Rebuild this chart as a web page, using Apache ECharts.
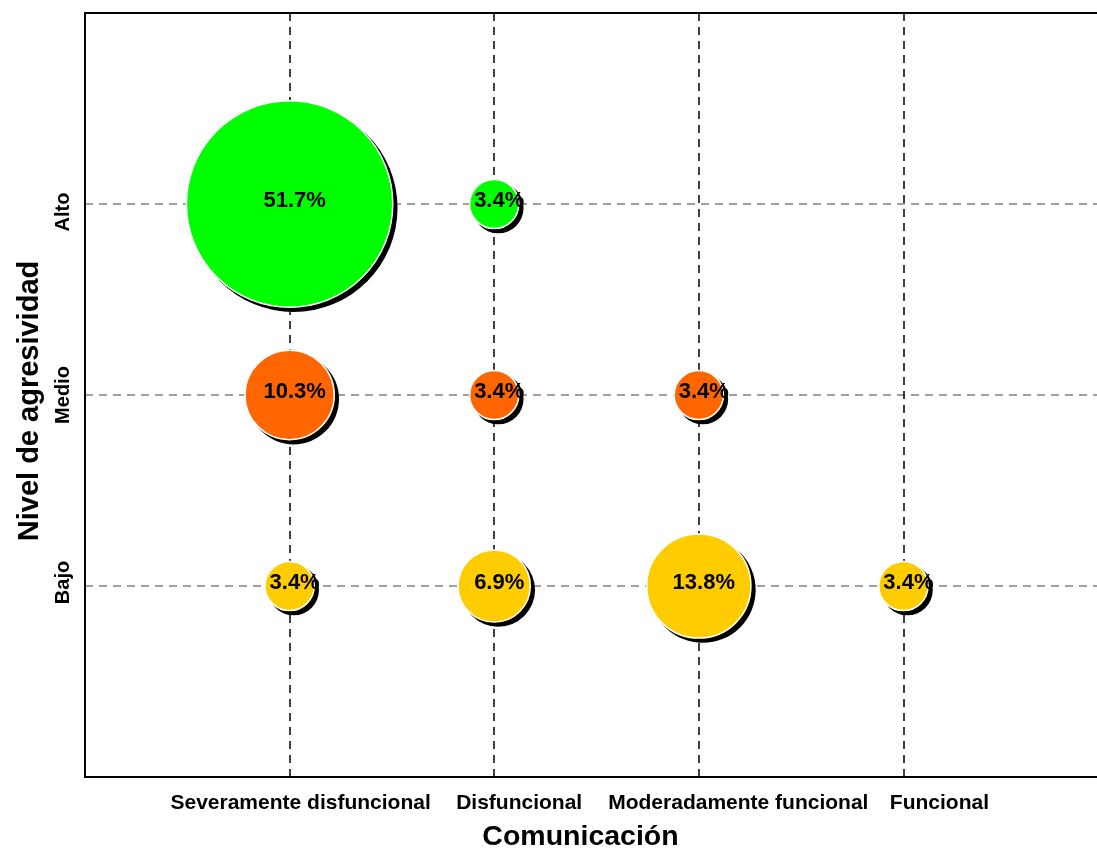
<!DOCTYPE html>
<html>
<head>
<meta charset="utf-8">
<script src="https://cdn.jsdelivr.net/npm/echarts@6/dist/echarts.min.js"></script>
<style>
  html, body { margin: 0; padding: 0; background: #fff; }
  #chart { width: 1097px; height: 850px; }
</style>
</head>
<body>
<div id="chart"></div>
<script>
// Categories (x axis: Comunicación) and levels (y axis: Nivel de agresividad)
const categories = ['Severamente disfuncional', 'Disfuncional', 'Moderadamente funcional', 'Funcional'];
const levels = ['Bajo', 'Medio', 'Alto'];
// Percentages per level, in category order (null = no bubble)
const bajoValues = [3.4, 6.9, 13.8, 3.4];
const medioValues = [10.3, 3.4, 3.4, null];
const altoValues = [51.7, 3.4, null, null];

const FONT = '"Liberation Sans", Arial, sans-serif';
const sizeOf = d => 29.4 * Math.sqrt(d[2]) - 5;

function toPoints(values, levelIndex) {
  const pts = [];
  values.forEach((v, i) => {
    if (v !== null) pts.push([i + 1, levelIndex + 1, v]);
  });
  return pts;
}

function shadowSeries(values, levelIndex) {
  return {
    type: 'scatter',
    data: toPoints(values, levelIndex),
    symbol: 'circle',
    symbolSize: d => sizeOf(d) + 1.5,
    symbolOffset: [4, 4],
    itemStyle: { color: '#000', opacity: 1 },
    label: { show: false },
    silent: true,
    z: 1,
    emphasis: { disabled: true }
  };
}

function bubbleSeries(name, values, levelIndex, color) {
  return {
    name: name,
    type: 'scatter',
    data: toPoints(values, levelIndex),
    symbol: 'circle',
    symbolSize: sizeOf,
    itemStyle: {
      color: color,
      opacity: 1,
      borderColor: '#ffffff',
      borderWidth: 1.5
    },
    label: {
      show: true,
      position: 'inside',
      offset: [5, -3],
      formatter: p => p.data[2].toFixed(1) + '%',
      color: '#000',
      fontFamily: FONT,
      fontWeight: 'bold',
      fontSize: 22
    },
    z: 2,
    emphasis: { disabled: true }
  };
}

const chart = echarts.init(document.getElementById('chart'), null, { renderer: 'canvas' });
chart.setOption({
  animation: false,
  backgroundColor: '#ffffff',
  grid: {
    left: 85,
    top: 13,
    width: 1023,
    height: 764,
    containLabel: false,
    outerBoundsMode: 'none',
    show: true,
    borderColor: '#000',
    borderWidth: 2,
    backgroundColor: 'transparent'
  },
  xAxis: {
    type: 'value',
    min: 0,
    max: 5,
    interval: 1,
    name: 'Comunicación',
    nameLocation: 'middle',
    nameGap: 46,
    nameTextStyle: {
      fontFamily: FONT, fontWeight: 'bold', fontSize: 28.5, color: '#000',
      padding: [0, 32, 0, 0]
    },
    axisLine: { show: true, onZero: false, lineStyle: { color: '#000', width: 2 } },
    axisTick: { show: false },
    axisLabel: {
      margin: 16,
      fontFamily: FONT, fontWeight: 'bold', fontSize: 21, color: '#000',
      formatter: v => (v >= 1 && v <= categories.length) ? '{c' + (v - 1) + '|' + categories[v - 1] + '}' : '',
      rich: {
        c0: { fontFamily: FONT, fontWeight: 'bold', fontSize: 21, color: '#000', padding: [0, 0, 0, 22] },
        c1: { fontFamily: FONT, fontWeight: 'bold', fontSize: 21, color: '#000', padding: [0, 0, 0, 50] },
        c2: { fontFamily: FONT, fontWeight: 'bold', fontSize: 21, color: '#000', padding: [0, 0, 0, 79] },
        c3: { fontFamily: FONT, fontWeight: 'bold', fontSize: 21, color: '#000', padding: [0, 0, 0, 72] }
      }
    },
    splitLine: {
      show: true,
      showMinLine: false,
      showMaxLine: false,
      lineStyle: { color: '#000', width: 1.5, type: [8, 6] }
    }
  },
  yAxis: {
    type: 'value',
    min: 0,
    max: 4,
    interval: 1,
    name: 'Nivel de agresividad',
    nameLocation: 'middle',
    nameGap: 41,
    nameTextStyle: {
      fontFamily: FONT, fontWeight: 'bold', fontSize: 29, color: '#000',
      padding: [0, 12, 0, 0]
    },
    axisLine: { show: true, onZero: false, lineStyle: { color: '#000', width: 2 } },
    axisTick: { show: false },
    axisLabel: {
      rotate: 90,
      margin: 12,
      fontFamily: FONT, fontWeight: 'bold', fontSize: 20, color: '#000',
      formatter: v => (v >= 1 && v <= levels.length) ? '{l' + (v - 1) + '|' + levels[v - 1] + '}' : '',
      rich: {
        l0: { fontFamily: FONT, fontWeight: 'bold', fontSize: 20, color: '#000', padding: [0, 0, 0, 7] },
        l1: { fontFamily: FONT, fontWeight: 'bold', fontSize: 20, color: '#000' },
        l2: { fontFamily: FONT, fontWeight: 'bold', fontSize: 20, color: '#000', padding: [0, 16, 0, 0] }
      }
    },
    splitLine: {
      show: true,
      showMinLine: false,
      showMaxLine: false,
      lineStyle: { color: '#808080', width: 1.5, type: [8, 6] }
    }
  },
  series: [
    shadowSeries(altoValues, 2),
    shadowSeries(medioValues, 1),
    shadowSeries(bajoValues, 0),
    bubbleSeries('Alto', altoValues, 2, '#00FF00'),
    bubbleSeries('Medio', medioValues, 1, '#FF6600'),
    bubbleSeries('Bajo', bajoValues, 0, '#FFCC00')
  ]
});
</script>
</body>
</html>
